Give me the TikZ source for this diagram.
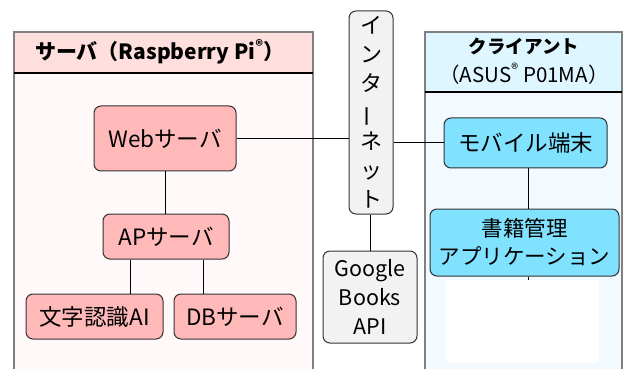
\documentclass[tikz,border=0pt]{standalone}
\usepackage{fontspec}
\setmainfont{Noto Sans CJK JP}
\definecolor{lhead}{HTML}{FFDEDE}
\definecolor{lbody}{HTML}{FFF9F9}
\definecolor{pinkbox}{HTML}{FFB9B9}
\definecolor{rhead}{HTML}{DDF6FF}
\definecolor{rbody}{HTML}{F2FAFF}
\definecolor{cyanbox}{HTML}{80E2FF}
\definecolor{netgray}{HTML}{F2F2F2}
\definecolor{panelline}{HTML}{808080}
\definecolor{edge}{HTML}{333333}
\tikzset{
  box/.style={draw=edge, line width=1pt, rounded corners=7pt, align=center, inner sep=0pt,
    font=\fontsize{22.5}{29}\selectfont},
  pbox/.style={box, fill=pinkbox},
  cbox/.style={box, fill=cyanbox},
  gbox/.style={box, fill=netgray},
  link/.style={draw=black, line width=1pt},
  panel/.style={draw=panelline, line width=1.6pt},
}
\begin{document}
\begin{tikzpicture}[x=1pt, y=-1pt]
\useasboundingbox (0,0) rectangle (625,369);
\begin{scope}
\clip (0,0) rectangle (625,369);
% left panel
\fill[lbody] (14,32) rectangle (313,380);
\fill[lhead] (14,32) rectangle (313,73);
\draw[panel] (14,380) -- (14,32) -- (313,32) -- (313,380);
\draw[line width=1.4pt, black] (14,73) -- (313,73);
\node (lt) at (160,52) {\fontsize{21}{24}\selectfont\bfseries サーバ（Raspberry Pi\textsuperscript{®}）};
% right panel
\fill[rbody] (425,32) rectangle (622,380);
\fill[rhead] (425,32) rectangle (622,92);
\draw[panel] (425,380) -- (425,32) -- (622,32) -- (622,380);
\draw[line width=1.4pt, black] (425,92) -- (622,92);
\node (rt) at (524,61) [align=center, font=\fontsize{20.5}{29}\selectfont] {{\fontsize{18.5}{22}\selectfont\bfseries クライアント}\\（ASUS\textsuperscript{®} P01MA）};
\end{scope}
% nodes
\node[pbox, minimum width=142pt, minimum height=65pt] (web) at (165,138.5) {Webサーバ};
\node[pbox, minimum width=126pt, minimum height=45pt] (ap) at (166,236.5) {APサーバ};
\node[pbox, minimum width=137pt, minimum height=45pt] (ai) at (94.5,316.5) {文字認識AI};
\node[pbox, minimum width=122pt, minimum height=45pt] (db) at (235,316.5) {DBサーバ};
\node[gbox, minimum width=44pt, minimum height=203pt, font=\fontsize{22}{29}\selectfont] (net) at (371,112.5) {イ\\ン\\タ\\\rotatebox[origin=c]{90}{ー}\\ネ\\ッ\\ト};
\node[gbox, minimum width=94pt, minimum height=92pt, font=\fontsize{21.5}{29}\selectfont] (gb) at (370,297) {Google\\Books\\API};
\node[cbox, minimum width=163pt, minimum height=50pt] (mob) at (525.5,143) {モバイル端末};
\node[cbox, minimum width=189pt, minimum height=67pt, font=\fontsize{21.5}{28}\selectfont] (app) at (524.5,242.5) {書籍管理\\アプリケーション};
\fill[white, rounded corners=3pt] (446,280) rectangle (599,363);
\coordinate (append) at (528,280);
% connectors
\draw[link] (web.east) -- (web.east -| net.west);
\draw[link] (net.east |- mob.west) -- (mob.west);
\draw[link] (web.south) -- (web.south |- ap.north);
\draw[link] (ai.north -| 130,0) -- (130,0 |- ap.south);
\draw[link] (db.north -| 203,0) -- (203,0 |- ap.south);
\draw[link] (net.south -| gb.north) -- (gb.north);
\draw[link] (mob.south -| append) -- (app.north -| append);
\draw[link] (app.south -| append) -- (append);
\end{tikzpicture}
\end{document}
